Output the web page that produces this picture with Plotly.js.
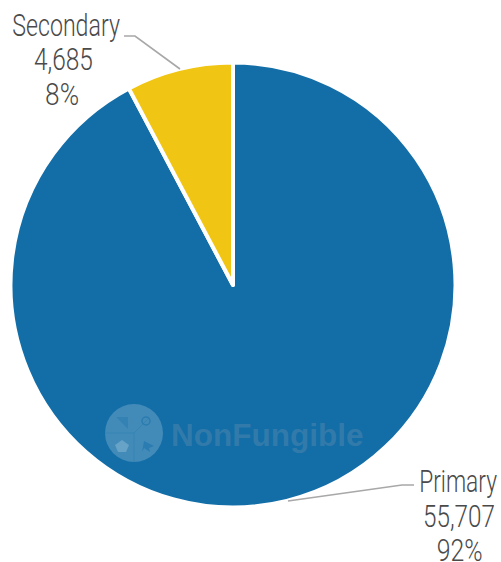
<!DOCTYPE html>
<html><head><meta charset="utf-8">
<script src="https://cdn.plot.ly/plotly-3.0.1.min.js"></script>
<style>html,body{margin:0;padding:0;background:#fff}#c{width:501px;height:562px}</style>
</head><body><div id="c"></div>
<script>
const categories = ['Primary', 'Secondary'];
const seriesValues = [55707, 4685];
const percentLabels = ['92%', '8%'];
const sliceColors = ['#136ea8', '#f1c513'];
const W = 501, H = 562;
const fx = x => x / W, fy = y => 1 - y / H;
const FONT = 'Roboto,"Liberation Sans",sans-serif';
const labelPos = [{x: [458, 459, 459], y: [481, 516, 550], w: [78, 72, 46]}, {x: [66, 63.5, 62], y: [26, 60, 94], w: [108, 59, 34]}];
const annotations = [];
const textWidths = [];
categories.forEach((c, i) => {
  [c, seriesValues[i].toLocaleString('en-US'), percentLabels[i]].forEach((t, j) => {
    textWidths.push(labelPos[i].w[j]);
    annotations.push({xref:'paper', yref:'paper', x:fx(labelPos[i].x[j]), y:fy(labelPos[i].y[j]),
      text:t, showarrow:false, xanchor:'center', yanchor:'middle',
      font:{family:FONT, size:31, weight:300, color:'#4a4a4a'}});
  });
});
annotations.push({xref:'paper', yref:'paper', x:fx(169), y:fy(435), text:'<b>NonFungible</b>',
  showarrow:false, xanchor:'left', yanchor:'middle',
  font:{family:'"Liberation Sans",Arial,sans-serif', size:31.5, color:'rgba(120,150,175,0.33)'}});
const pathOf = pts => pts.map((p, i) => (i ? 'L' : 'M') + fx(p[0]) + ',' + fy(p[1])).join(' ');
const leader = pts => ({type:'path', xref:'paper', yref:'paper', path:pathOf(pts),
  line:{color:'#a8a8a8', width:1.6}});
const shapes = [
  leader([[124,36],[135,36],[180,69]]),
  leader([[288,501],[402,485],[414,485]]),
  {type:'circle', xref:'paper', yref:'paper', x0:fx(105), x1:fx(163), y0:fy(462), y1:fy(404),
   fillcolor:'rgba(255,255,255,0.2)', line:{width:0}},
  {type:'path', xref:'paper', yref:'paper', path:pathOf([[105,433],[134,433],[134,462]]),
   line:{color:'rgba(19,110,168,0.25)', width:1}},
  {type:'path', xref:'paper', yref:'paper', path:pathOf([[134,433],[149,418]]),
   line:{color:'rgba(19,110,168,0.25)', width:1}},
  {type:'path', xref:'paper', yref:'paper', path:pathOf([[116,417],[128,417],[128,429]]) + ' Z',
   fillcolor:'rgba(19,110,168,0.3)', line:{width:0}},
  {type:'path', xref:'paper', yref:'paper',
   path:pathOf([[122,440],[129,445],[126,452],[118,452],[115,445]]) + ' Z',
   fillcolor:'rgba(255,255,255,0.2)', line:{width:0}},
  {type:'circle', xref:'paper', yref:'paper', x0:fx(142), x1:fx(150), y0:fy(425), y1:fy(417),
   line:{color:'rgba(19,110,168,0.5)', width:1.5}},
  {type:'path', xref:'paper', yref:'paper',
   path:pathOf([[144,441],[154,446],[149,448],[150,452],[144,448],[142,452]]) + ' Z',
   fillcolor:'rgba(19,110,168,0.5)', line:{width:0}}
];
Plotly.newPlot('c', [{
  type:'pie', labels:categories, values:seriesValues, sort:false, direction:'clockwise', rotation:0,
  textinfo:'none', hoverinfo:'label+value+percent',
  marker:{colors:sliceColors, line:{color:'#ffffff', width:4}},
  domain:{x:[fx(10.5), fx(455.5)], y:[fy(508), fy(62)]}
}], {
  width:W, height:H, margin:{l:0,r:0,t:0,b:0}, showlegend:false,
  paper_bgcolor:'#fff', annotations, shapes
}, {displayModeBar:false}).then(gd => {
  // The reference uses a condensed face: narrow the real text to its measured width.
  gd.querySelectorAll('.annotation-text').forEach((el, i) => {
    if (i < textWidths.length) {
      const b = el.getBBox();
      const cx = b.x + b.width / 2;
      const s = textWidths[i] / b.width;
      const old = el.getAttribute('transform') || '';
      el.setAttribute('transform', old + ` translate(${cx},0) scale(${s},1) translate(${-cx},0)`);
    }
  });
});
</script></body></html>
